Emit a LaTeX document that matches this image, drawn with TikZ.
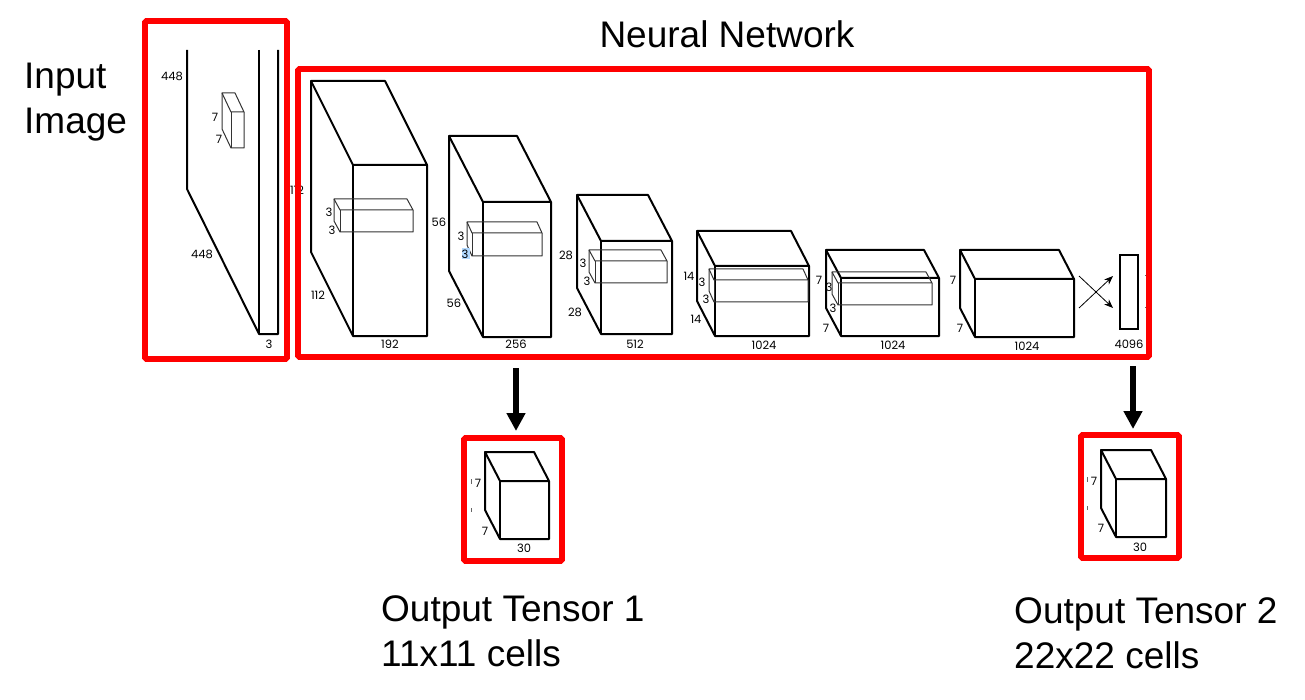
\documentclass[tikz,border=0pt]{standalone}
\usepackage{fontspec}
\setmainfont{Liberation Sans}
\newfontfamily\dimfont{Poppins}
\usetikzlibrary{arrows.meta}
\tikzset{
  redbox/.style={draw=red,line width=5.8pt,rounded corners=1.5pt,outer sep=0pt,inner sep=0pt,anchor=north west},
  dimlabel/.style={font=\dimfont\fontsize{11.5}{11.5}\selectfont,text=black,inner sep=0pt},
  caption/.style={font=\fontsize{37}{45}\selectfont,align=left,inner sep=0pt,anchor=west},
  bigline/.style={line width=2pt,line join=round},
  thinline/.style={line width=1pt,draw=black!80,line join=round},
  downarrow/.style={-{Triangle[length=18pt,width=18pt]},line width=6pt},
  crossarrow/.style={-{Stealth[length=9pt,width=7pt]},line width=0.8pt},
}
% back top left x, y, depth x, depth y, width, height, line style
\newcommand{\cuboid}[7]{
  \draw[#7] (#1,#2) -- ++(#5,0) -- ++(#3,#4) -- ++(-#5,0) -- cycle;
  \draw[#7] (#1,#2) -- ++(0,#6) -- ++(#3,#4) -- ++(#5,0) -- ++(0,-#6);
  \draw[#7] (#1+#3,#2+#4) -- ++(0,#6);
}
\begin{document}
\begin{tikzpicture}[x=1pt,y=-1pt]
  \useasboundingbox (0,0) rectangle (1305,700);
  % Captions
  \node[caption,anchor=center] (nettitle) at (727,34) {Neural Network};
  \node[caption] (inputtitle) at (24,102) {Input\\Image};
  \node[caption] (outtitle1) at (381,631) {Output Tensor 1\\11x11 cells};
  \node[caption] (outtitle2) at (1014,633) {Output Tensor 2\\22x22 cells};

  % Input image
  \draw[bigline] (187,50) -- (187,189) -- (259,334) -- (278,334) -- (278,50);
  \draw[bigline] (259,50) -- (259,334);
  \cuboid{222}{93}{9}{19}{13}{36}{thinline}
  \node[dimlabel] (in448a) at (172,76) {448};
  \node[dimlabel] (in448b) at (202,254) {448};
  \node[dimlabel] (in7a) at (215,117) {7};
  \node[dimlabel] (in7b) at (219,139) {7};
  \node[dimlabel] (in3) at (269,344) {3};

  % Layer 1
  \cuboid{311}{81}{42}{84}{74}{171}{bigline}
  \cuboid{334}{199}{6}{11}{73}{22}{thinline}
  \node[dimlabel] (a112a) at (297,190) {112};
  \node[dimlabel] (a112b) at (318,295) {112};
  \node[dimlabel] (a3a) at (329,212) {3};
  \node[dimlabel] (a3b) at (332,230) {3};
  \node[dimlabel] (a192) at (390,344) {192};

  % Layer 2
  \cuboid{449}{136}{34}{66}{68}{135}{bigline}
  \cuboid{467}{222}{5}{11}{70}{23}{thinline}
  \fill[blue!50!cyan!30] (462,248) rectangle (470,259);
  \node[dimlabel] (b56a) at (439,222) {56};
  \node[dimlabel] (b56b) at (454,303) {56};
  \node[dimlabel] (b3a) at (461,236) {3};
  \node[dimlabel] (b3b) at (465,254) {3};
  \node[dimlabel] (b256) at (516,344) {256};

  % Layer 3
  \cuboid{577}{195}{24}{46}{71}{93}{bigline}
  \cuboid{589}{250}{6}{11}{72}{22}{thinline}
  \node[dimlabel] (c28a) at (566,255) {28};
  \node[dimlabel] (c28b) at (575,312) {28};
  \node[dimlabel] (c3a) at (583,263) {3};
  \node[dimlabel] (c3b) at (587,281) {3};
  \node[dimlabel] (c512) at (635,344) {512};

  % Layer 4
  \cuboid{697}{231}{18}{35}{94}{70}{bigline}
  \cuboid{709}{269}{5}{11}{94}{22}{thinline}
  \node[dimlabel] (d14a) at (689,276) {14};
  \node[dimlabel] (d14b) at (696,319) {14};
  \node[dimlabel] (d3a) at (702,282) {3};
  \node[dimlabel] (d3b) at (706,299) {3};
  \node[dimlabel] (d1024) at (764,345) {1024};

  % Layer 5
  \cuboid{826}{250}{15}{28}{98}{58}{bigline}
  \cuboid{832}{272}{6}{11}{94}{22}{thinline}
  \node[dimlabel] (e7a) at (819,280) {7};
  \node[dimlabel] (e7b) at (826,328) {7};
  \node[dimlabel] (e3a) at (829,287) {3};
  \node[dimlabel] (e3b) at (833,308) {3};
  \node[dimlabel] (e1024) at (893,345) {1024};

  % Layer 6
  \cuboid{960}{250}{15}{29}{99}{58}{bigline}
  \node[dimlabel] (f7a) at (953,280) {7};
  \node[dimlabel] (f7b) at (960,328) {7};
  \node[dimlabel] (f1024) at (1027,346) {1024};

  % Fully connected
  \node[draw,line width=2pt,minimum width=18pt,minimum height=74pt,inner sep=0pt,outer sep=0pt,anchor=north west] (fcbar) at (1120,255) {};
  \node[dimlabel] (g4096) at (1129,344) {4096};
  \coordinate (crossa) at (1079,276);
  \coordinate (crossb) at (1113,308);
  \coordinate (crossc) at (1079,308);
  \coordinate (crossd) at (1113,276);
  \draw[crossarrow] (crossa) -- (crossb);
  \draw[crossarrow] (crossc) -- (crossd);
  \draw[line width=0.6pt,black!60] (1145,275) -- ++(1.5,0) (1145,307) -- ++(1.5,0);

  % Red frames
  \node[redbox,minimum width=142pt,minimum height=338pt] (inputframe) at (145,21) {};
  \node[redbox,minimum width=851pt,minimum height=288pt] (netframe) at (298,69) {};
  \node[redbox,minimum width=98pt,minimum height=123pt] (outframe1) at (464,438) {};
  \node[redbox,minimum width=98pt,minimum height=123pt] (outframe2) at (1081,435) {};

  % Output 1
  \cuboid{485}{452}{15}{29}{49}{58}{bigline}
  \node[dimlabel] (h7a) at (478,483) {7};
  \node[dimlabel] (h7b) at (485,531) {7};
  \node[dimlabel] (h30) at (524,548) {30};
  \draw[line width=0.6pt,black!60] (471,479) -- ++(0,5) (471,508) -- ++(0,4);

  % Output 2
  \cuboid{1101}{450}{15}{29}{50}{58}{bigline}
  \node[dimlabel] (k7a) at (1094,481) {7};
  \node[dimlabel] (k7b) at (1101,528) {7};
  \node[dimlabel] (k30) at (1140,547) {30};
  \draw[line width=0.6pt,black!60] (1087,477) -- ++(0,5) (1087,506) -- ++(0,4);

  % Arrows to the outputs
  \coordinate (tapa) at (516,368);
  \coordinate (tipa) at (516,431);
  \coordinate (tapb) at (1133,366);
  \coordinate (tipb) at (1133,429);
  \draw[downarrow] (tapa) -- (tipa);
  \draw[downarrow] (tapb) -- (tipb);
\end{tikzpicture}
\end{document}
